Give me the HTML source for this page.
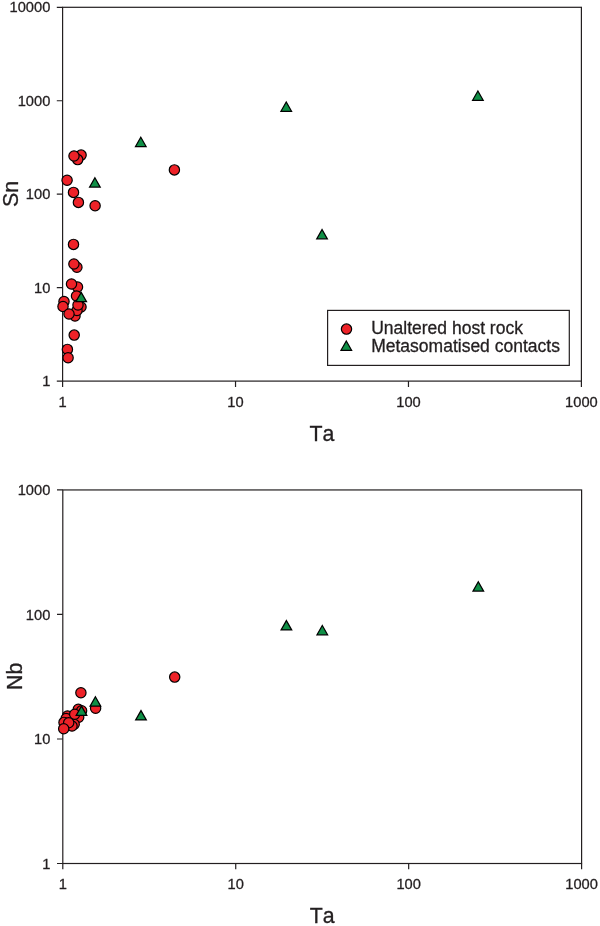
<!DOCTYPE html>
<html lang="en">
<head>
<meta charset="utf-8">
<title>Sn and Nb versus Ta</title>
<style>
html,body{margin:0;padding:0;background:#fff;}
body{width:600px;height:926px;overflow:hidden;}
svg{display:block;}
text{font-family:"Liberation Sans",Arial,Helvetica,sans-serif;fill:#231f20;stroke:#231f20;stroke-width:0.3px;font-kerning:none;}
.tk{font-size:14.67px;}
.lg{font-size:17.5px;}
.ax{font-size:21.33px;}
.c circle{fill:#ee2228;stroke:#000;stroke-width:1.2;}
.t use{fill:#0f8f46;stroke:#000;stroke-width:1.25;}
</style>
</head>
<body>
<svg width="600" height="926" viewBox="0 0 600 926">
<defs><path id="tri" d="M0,-6.2L5.3,3.1L-5.3,3.1Z"/></defs>
<rect width="600" height="926" fill="#fff"/>
<!-- upper plot -->
<rect x="62.6" y="7.3" width="518.80" height="373.80" fill="none" stroke="#231f20" stroke-width="1.2"/>
<path d="M62.60,381.1v5.8 M235.53,381.1v5.8 M408.47,381.1v5.8 M581.40,381.1v5.8 M62.6,381.10h-5.8 M62.6,287.65h-5.8 M62.6,194.20h-5.8 M62.6,100.75h-5.8 M62.6,7.30h-5.8" stroke="#231f20" stroke-width="1.2" fill="none"/>
<text class="tk" x="62.60" y="406.50" text-anchor="middle">1</text>
<text class="tk" x="235.53" y="406.50" text-anchor="middle">10</text>
<text class="tk" x="408.47" y="406.50" text-anchor="middle">100</text>
<text class="tk" x="581.40" y="406.50" text-anchor="middle">1000</text>
<text class="tk" x="50.3" y="386.20" text-anchor="end">1</text>
<text class="tk" x="50.3" y="292.75" text-anchor="end">10</text>
<text class="tk" x="50.3" y="199.30" text-anchor="end">100</text>
<text class="tk" x="50.3" y="105.85" text-anchor="end">1000</text>
<text class="tk" x="50.3" y="12.40" text-anchor="end">10000</text>
<text class="ax" transform="translate(18.1,194) rotate(-90)" text-anchor="middle">Sn</text>
<text class="ax" x="322" y="440.7" text-anchor="middle">Ta</text>
<g class="c">
<circle cx="81.1" cy="155.1" r="5.15"/>
<circle cx="77.7" cy="159.6" r="5.15"/>
<circle cx="74.0" cy="156.0" r="5.15"/>
<circle cx="67.1" cy="180.3" r="5.15"/>
<circle cx="73.5" cy="192.4" r="5.15"/>
<circle cx="78.4" cy="202.4" r="5.15"/>
<circle cx="95.1" cy="205.7" r="5.15"/>
<circle cx="174.4" cy="169.9" r="5.15"/>
<circle cx="73.5" cy="244.4" r="5.15"/>
<circle cx="76.9" cy="267.3" r="5.15"/>
<circle cx="73.9" cy="264.0" r="5.15"/>
<circle cx="77.5" cy="287.0" r="5.15"/>
<circle cx="71.5" cy="284.0" r="5.15"/>
<circle cx="76.5" cy="296.0" r="5.15"/>
<circle cx="64.0" cy="301.5" r="5.15"/>
<circle cx="63.0" cy="306.5" r="5.15"/>
<circle cx="81.0" cy="307.0" r="5.15"/>
<circle cx="75.0" cy="316.0" r="5.15"/>
<circle cx="77.0" cy="310.5" r="5.15"/>
<circle cx="78.0" cy="305.0" r="5.15"/>
<circle cx="69.0" cy="314.0" r="5.15"/>
<circle cx="74.2" cy="335.1" r="5.15"/>
<circle cx="67.4" cy="349.4" r="5.15"/>
<circle cx="68.1" cy="357.8" r="5.15"/>
</g>
<g class="t">
<use href="#tri" x="94.9" y="184.0"/>
<use href="#tri" x="81.2" y="298.6"/>
<use href="#tri" x="140.8" y="143.4"/>
<use href="#tri" x="286.25" y="108.2"/>
<use href="#tri" x="322.05" y="235.75"/>
<use href="#tri" x="477.9" y="97.2"/>
</g>
<!-- legend -->
<rect x="327.6" y="310.4" width="241.7" height="55" fill="#fff" stroke="#231f20" stroke-width="1.2"/>
<g class="c"><circle cx="346.5" cy="329.1" r="5.15"/></g>
<g class="t"><use href="#tri" x="346.3" y="347.2"/></g>
<text class="lg" x="371.2" y="333.5">Unaltered host rock</text>
<text class="lg" x="371.2" y="351.8">Metasomatised contacts</text>
<!-- lower plot -->
<rect x="62.8" y="489.95" width="518.80" height="373.55" fill="none" stroke="#231f20" stroke-width="1.2"/>
<path d="M62.80,863.5v5.8 M235.73,863.5v5.8 M408.67,863.5v5.8 M581.60,863.5v5.8 M62.8,863.50h-5.8 M62.8,738.98h-5.8 M62.8,614.47h-5.8 M62.8,489.95h-5.8" stroke="#231f20" stroke-width="1.2" fill="none"/>
<text class="tk" x="62.80" y="888.90" text-anchor="middle">1</text>
<text class="tk" x="235.73" y="888.90" text-anchor="middle">10</text>
<text class="tk" x="408.67" y="888.90" text-anchor="middle">100</text>
<text class="tk" x="581.60" y="888.90" text-anchor="middle">1000</text>
<text class="tk" x="50.3" y="868.60" text-anchor="end">1</text>
<text class="tk" x="50.3" y="744.08" text-anchor="end">10</text>
<text class="tk" x="50.3" y="619.57" text-anchor="end">100</text>
<text class="tk" x="50.3" y="495.05" text-anchor="end">1000</text>
<text class="ax" transform="translate(22.2,676.4) rotate(-90)" text-anchor="middle">Nb</text>
<text class="ax" x="322.2" y="923.1" text-anchor="middle">Ta</text>
<g class="c">
<circle cx="80.9" cy="692.7" r="5.15"/>
<circle cx="95.6" cy="708.3" r="5.15"/>
<circle cx="174.7" cy="677.1" r="5.15"/>
<circle cx="78.3" cy="709.3" r="5.15"/>
<circle cx="81.6" cy="710.8" r="5.15"/>
<circle cx="78.7" cy="717.3" r="5.15"/>
<circle cx="67.5" cy="716.0" r="5.15"/>
<circle cx="66.2" cy="718.5" r="5.15"/>
<circle cx="74.2" cy="724.3" r="5.15"/>
<circle cx="72.0" cy="726.0" r="5.15"/>
<circle cx="64.0" cy="722.4" r="5.15"/>
<circle cx="74.7" cy="714.3" r="5.15"/>
<circle cx="68.7" cy="722.7" r="5.15"/>
<circle cx="63.7" cy="728.7" r="5.15"/>
</g>
<g class="t">
<use href="#tri" x="95.4" y="703.0"/>
<use href="#tri" x="81.5" y="712.3"/>
<use href="#tri" x="141.0" y="716.8"/>
<use href="#tri" x="286.4" y="626.8"/>
<use href="#tri" x="322.3" y="631.7"/>
<use href="#tri" x="478.3" y="588.0"/>
</g>
</svg>
</body>
</html>
